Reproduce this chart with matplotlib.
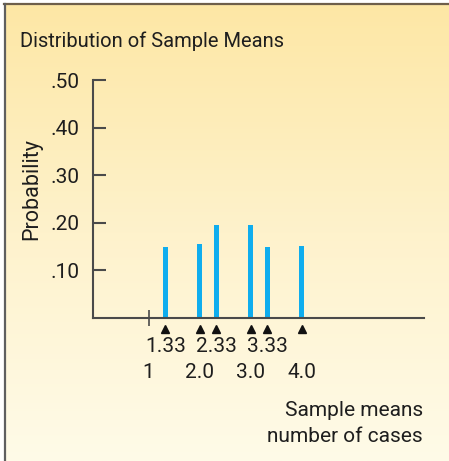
import numpy as np
import matplotlib
matplotlib.use("Agg")
import matplotlib.pyplot as plt
from matplotlib.lines import Line2D
from matplotlib.colors import LinearSegmentedColormap
import matplotlib.transforms as mtransforms

plt.rcParams['font.family'] = ['Roboto', 'DejaVu Sans']

# data
sample_means = [1.33, 2.0, 2.33, 3.0, 3.33, 4.0]
probabilities = [0.15, 0.155, 0.195, 0.195, 0.15, 0.152]
upper_labels = ["1.33", "2.33", "3.33"]
upper_pos = [1.33, 2.33, 3.33]
lower_labels = ["1", "2.0", "3.0", "4.0"]
lower_pos = [1, 2, 3, 4]
y_ticks = [0.10, 0.20, 0.30, 0.40, 0.50]
y_ticklabels = [".10", ".20", ".30", ".40", ".50"]

TXT = "#1e1e1e"
W, H = 449, 461
fig = plt.figure(figsize=(W / 100, H / 100), dpi=100)
fig.patch.set_facecolor("white")

# background gradient panel
bg = fig.add_axes([5 / W, 0, 1 - 5 / W, 1 - 5 / H])
cmap = LinearSegmentedColormap.from_list("bg", ["#fde7a5", "#fef2cc", "#fffbe8"])
bg.imshow(np.linspace(0, 1, 256).reshape(-1, 1), aspect="auto", cmap=cmap,
          extent=[0, 1, 0, 1], origin="upper")
bg.set_axis_off()

# frame lines (top and left)
fig.add_artist(Line2D([4 / W, 1], [1 - 4.5 / H, 1 - 4.5 / H], color="#6e5f4a", lw=1.6))
fig.add_artist(Line2D([4.5 / W, 4.5 / W], [0, 1 - 4 / H], color="#5f5f5f", lw=1.6))

ax = fig.add_axes([93 / W, 143 / H, (424 - 93) / W, (318 - 80) / H])
ax.patch.set_alpha(0)
ax.bar(sample_means, probabilities, width=0.1, color="#0fadee")
ax.set_xlim(-0.09, 6.40)
ax.set_ylim(0, 0.5)

for s in ["top", "right"]:
    ax.spines[s].set_visible(False)
for s in ["left", "bottom"]:
    ax.spines[s].set_color("#4a4a4a")
    ax.spines[s].set_linewidth(1.5)

ax.set_yticks(y_ticks)
ax.set_yticklabels(y_ticklabels)
ax.tick_params(axis="y", direction="in", length=9, width=1.5, color="#4a4a4a",
               labelsize=15, labelcolor=TXT, pad=10)
ax.set_xticks([1])
ax.set_xticklabels([""])
ax.tick_params(axis="x", direction="inout", length=12, width=1.2, color="#4a4a4a")

trans = mtransforms.blended_transform_factory(ax.transData, ax.transAxes)
ax.plot(sample_means, [-0.045] * len(sample_means), marker="^", ls="none",
        color="#111111", markersize=6, transform=trans, clip_on=False)
for lab, p in zip(upper_labels, upper_pos):
    ax.text(p, -0.12, lab, transform=trans, ha="center", va="center",
            fontsize=15, color=TXT)
for lab, p in zip(lower_labels, lower_pos):
    ax.text(p, -0.23, lab, transform=trans, ha="center", va="center",
            fontsize=15, color=TXT)

fig.text(20 / W, 1 - 47 / H, "Distribution of Sample Means", ha="left", va="baseline",
         fontsize=14.5, color=TXT)
fig.text(32 / W, 1 - 189 / H, "Probability", rotation=90, ha="center", va="center",
         fontsize=15.5, color=TXT)
fig.text(423 / W, 1 - 410 / H, "Sample means", ha="right", va="center",
         fontsize=15, color=TXT)
fig.text(423 / W, 1 - 436 / H, "number of cases", ha="right", va="center",
         fontsize=15, color=TXT)

fig.savefig("out.png", dpi=100)
